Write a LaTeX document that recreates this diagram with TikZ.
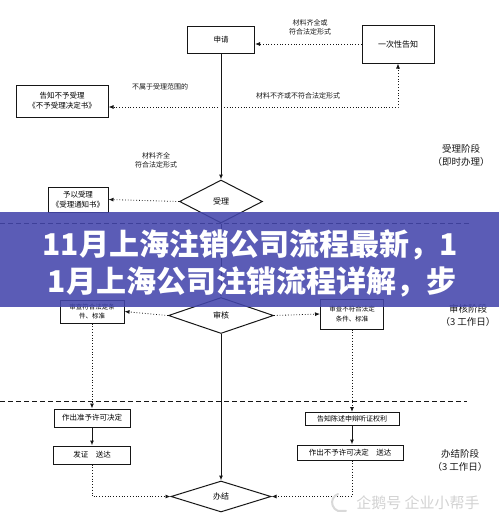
\documentclass[tikz,border=0pt]{standalone}
\usepackage{fontspec}
\setmainfont{Noto Sans CJK SC}
\usepackage{tikz}
\usetikzlibrary{shapes.geometric, arrows.meta, positioning, calc}

\definecolor{bandblue}{RGB}{68,70,172}
\definecolor{inkgray}{RGB}{22,22,22}

\begin{document}
\begin{tikzpicture}[x=1pt, y=-1pt,
    box/.style={draw=inkgray, line width=1pt, inner sep=0pt, align=center,
        font=\fontsize{7.5}{10}\selectfont},
    decision/.style={draw=inkgray, line width=1pt, diamond, inner sep=0pt,
        font=\fontsize{8}{10}\selectfont},
    note/.style={align=center, font=\fontsize{7}{9}\selectfont, text=inkgray},
    stage/.style={align=center, font=\fontsize{9.5}{13}\selectfont, text=inkgray},
    solidarrow/.style={-{Latex[length=5pt,width=4pt]}, line width=1pt, draw=inkgray},
    dotarrow/.style={-{Latex[length=5pt,width=4pt]}, dotted, line width=0.8pt, draw=inkgray},
    phase/.style={dash pattern=on 5pt off 3pt, line width=0.7pt, draw=inkgray}]
    \useasboundingbox (0,0) rectangle (499,520);

    % Accept stage
    \node[box, minimum width=67pt, minimum height=27pt] (apply) at (221, 39.5) {申请};
    \node[box, minimum width=72pt, minimum height=38pt, font=\fontsize{8}{10}\selectfont] (notify) at (398, 44) {一次性告知};
    \node[box, minimum width=92pt, minimum height=32pt] (reject) at (62, 101) {告知不予受理\\《不予受理决定书》};
    \node[decision, minimum width=83pt, minimum height=43pt] (accept) at (221, 201.5) {受理};
    \node[box, minimum width=60pt, minimum height=25pt] (notice) at (78, 199.5) {予以受理\\《受理通知书》};
    \coordinate (split) at (221, 107);

    \draw[dotarrow] (notify.west) -- (notify.west -| apply.east);
    \node[note] at (310, 27) {材料齐全或\\符合法定形式};
    \draw[solidarrow] (apply.south) -- (accept.north);
    \draw[dotarrow] ([xshift=-3pt]split) -- (split -| reject.east);
    \draw[dotarrow] ([xshift=3pt]split) -| (notify.south);
    \node[note] at (160, 87) {不属于受理范围的};
    \node[note] at (298, 96) {材料不齐或不符合法定形式};
    \node[note] at (156, 160) {材料齐全\\符合法定形式};
    \draw[dotarrow] (accept.west) -- (notice.east);
    \node[stage] at (461, 155) {受理阶段\\（即时办理）};

    \draw[phase] (0, 223) -- (470, 223);

    % Review stage
    \node[decision, minimum width=105pt, minimum height=36pt] (review) at (221, 315.5) {审核};
    \node[box, minimum width=64pt, minimum height=23pt, font=\fontsize{6.5}{9}\selectfont] (pass) at (92, 311.5) {审查符合法定条\\件、标准};
    \node[box, minimum width=63pt, minimum height=30pt, font=\fontsize{6.5}{10}\selectfont] (fail) at (352, 314) {审查不符合法定\\条件、标准};
    \draw[solidarrow] (accept.south) -- (review.north);
    \draw[dotarrow] (review.west) -- (pass.east);
    \draw[dotarrow] (review.east) -- (fail.west);
    \node[stage] at (468, 315) {审核阶段\\（3 工作日）};

    \draw[phase] (0, 401) -- (467, 401);

    % Finish stage
    \node[box, minimum width=76pt, minimum height=18pt] (grant) at (92, 418) {作出准予许可决定};
    \node[box, minimum width=77pt, minimum height=18pt] (issue) at (92, 455) {发证\quad 送达};
    \node[box, minimum width=94pt, minimum height=13pt, font=\fontsize{7}{9}\selectfont] (inform) at (352, 419) {告知陈述申辩听证权利};
    \node[box, minimum width=106pt, minimum height=15pt] (refuse) at (350, 452.5) {作出不予许可决定\quad 送达};
    \node[decision, minimum width=100pt, minimum height=31pt] (finish) at (221, 496.5) {办结};
    \draw[dotarrow] (pass.south) -- (pass.south |- grant.north);
    \draw[solidarrow] (grant) -- (issue);
    \draw[dotarrow] (issue.south) |- (finish.west);
    \draw[dotarrow] (fail.south) -- (fail.south |- inform.north);
    \draw[solidarrow] (inform.south -| fail.south) -- (refuse.north -| fail.south);
    \draw[dotarrow] (refuse.south -| fail.south) |- (finish.east);
    \draw[solidarrow] (review.south) -- (finish.north);
    \node[stage] at (460, 460) {办结阶段\\（3 工作日）};

    % Title band
    \fill[bandblue, fill opacity=0.88] (0, 212) rectangle (499, 307);
    \node[text=white, font=\fontsize{30}{36}\selectfont\bfseries] (title1) at (250, 245) {11月上海注销公司流程最新，1};
    \node[text=white, font=\fontsize{30}{36}\selectfont\bfseries] (title2) at (252, 282) {1月上海公司注销流程详解，步};

    % Watermark
    \draw[gray!30, line width=2pt, line cap=round] (338, 494) arc[start angle=110, end angle=250, radius=9pt] -- ++(8, 0);
    \node[text=gray!35, font=\fontsize{15}{18}\selectfont] (mark) at (418, 503) {企鹅号 企业小帮手};
\end{tikzpicture}
\end{document}
